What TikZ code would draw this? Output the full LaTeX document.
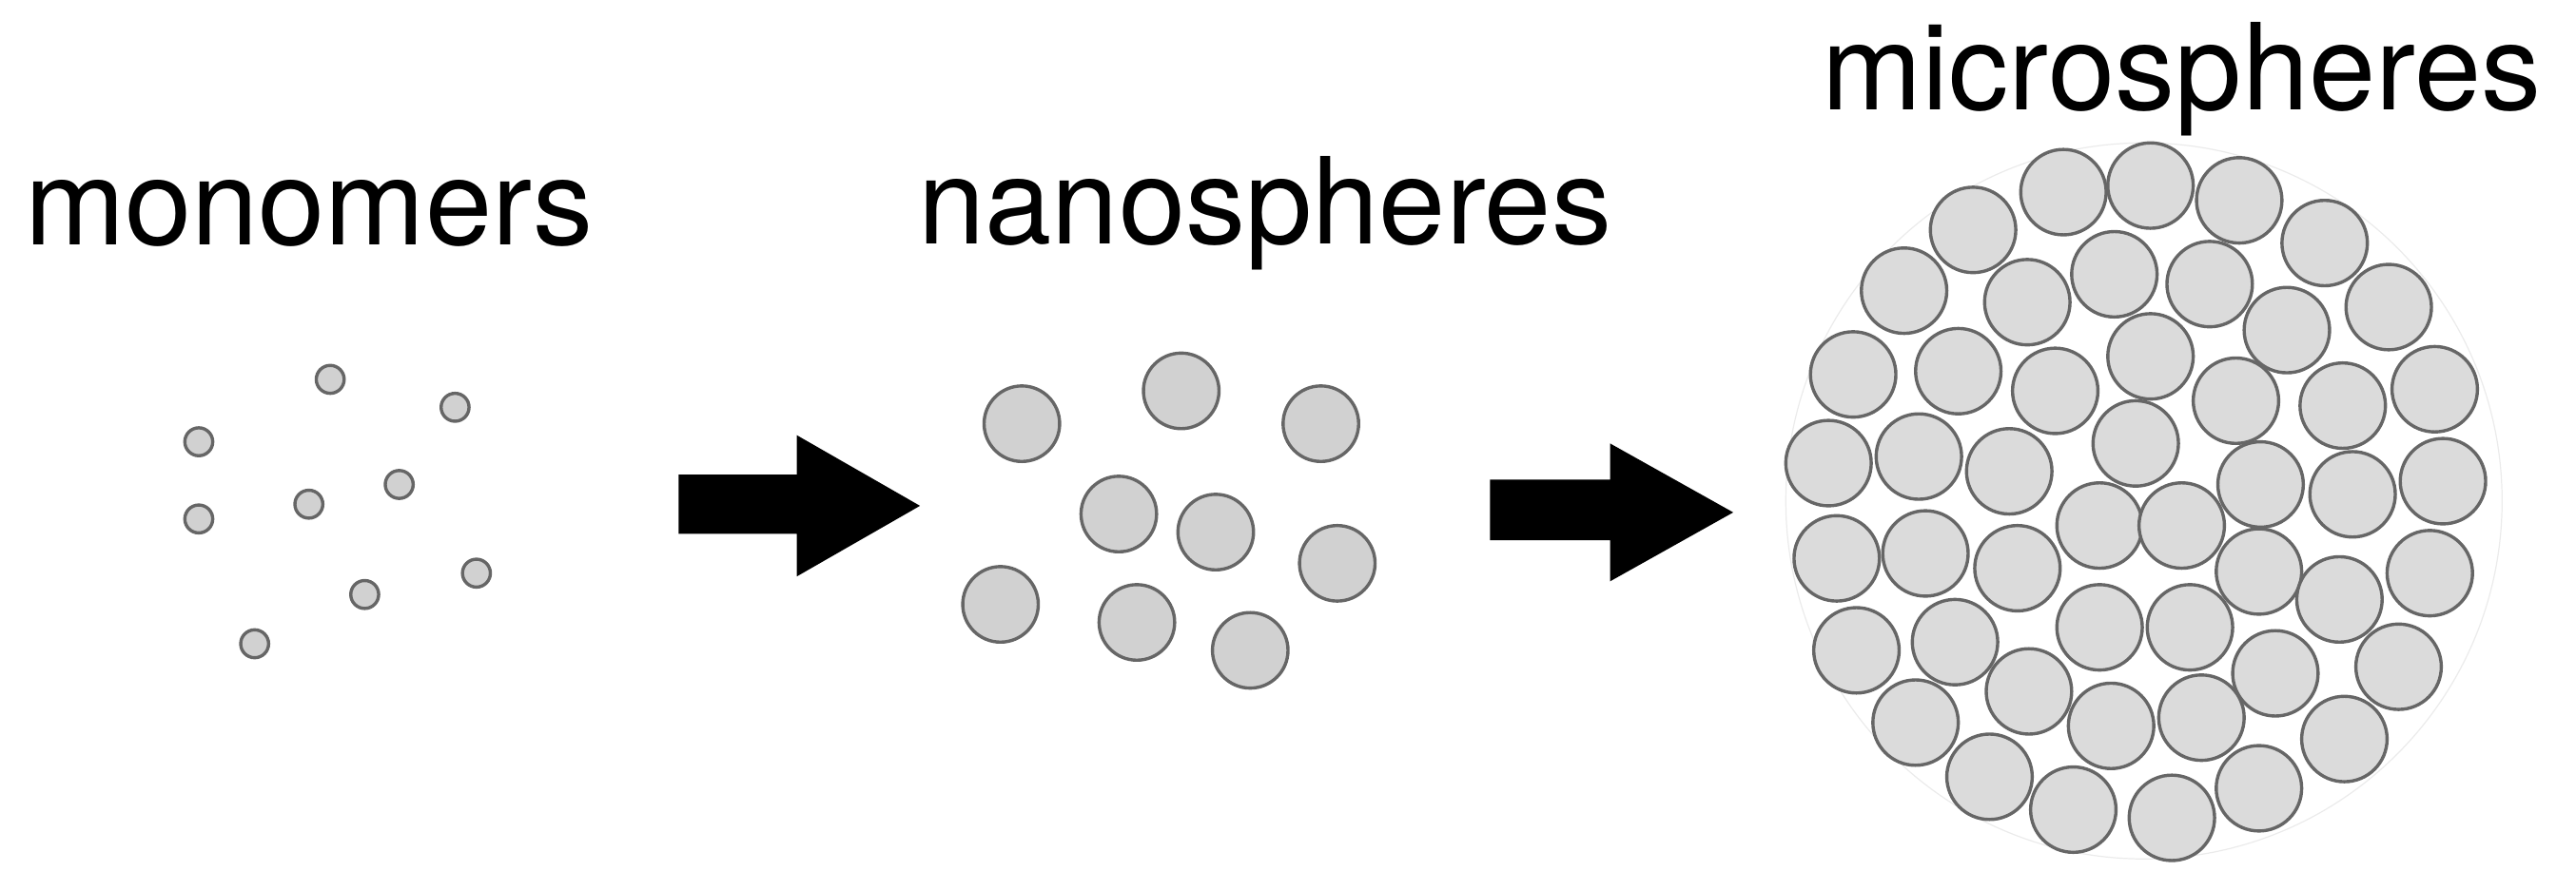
\documentclass[tikz,border=0pt]{standalone}
\usepackage{fontspec}
\setmainfont{TeX Gyre Heros}
\begin{document}
\begin{tikzpicture}[x=0.5mm,y=-0.5mm,
  sph/.style={draw=black!60,fill=black!18,line width=2.8pt},
  lbl/.style={font=\fontsize{104}{104}\selectfont,inner sep=0pt},
  arr/.style={fill=black}]
\useasboundingbox (0,0) rectangle (1568,542);
\node[lbl] (t1) at (188,130) {monomers};
\node[lbl] (t2) at (770,130) {nanospheres};
\node[lbl] (t3) at (1328,48) {microspheres};
\foreach \x/\y [count=\i] in {201/231,277/248,121/269,243/295,188/307,121/316,290/349,222/362,155/392}
  \node[sph,circle,minimum size=8.5mm,inner sep=0pt] (m\i) at (\x,\y) {};
\foreach \x/\y [count=\i] in {622/258,719/238,804/258,681/313,740/324,814/343,609/368,692/379,761/396}
  \node[sph,circle,minimum size=23mm,inner sep=0pt] (n\i) at (\x,\y) {};
\fill[arr] (413,289) -- (485,289) -- (485,265) -- (560,308) -- (485,351) -- (485,325) -- (413,325) -- cycle;
\fill[arr] (907,292) -- (980,292) -- (980,270) -- (1055,312) -- (980,354) -- (980,329) -- (907,329) -- cycle;
\node[circle,draw=black!8,line width=1pt,minimum size=218mm,inner sep=0pt] (big) at (1305,305) {};
\foreach \x/\y [count=\i] in {1256/117,1309/113,1363/122,1201/140,1415/148,1159/177,1234/184,1287/167,1345/173,1454/187,1128/228,1192/226,1251/238,1309/217,1392/201,1482/237,1361/244,1426/247,1113/282,1168/278,1223/287,1300/270,1487/293,1376/295,1432/301,1118/340,1172/337,1228/346,1278/320,1328/320,1479/349,1375/348,1424/365,1130/396,1190/391,1278/382,1333/382,1460/406,1385/410,1166/440,1235/421,1285/442,1340/437,1427/450,1211/473,1262/493,1322/498,1375/480}
  \node[sph,fill=black!14,circle,minimum size=26mm,inner sep=0pt] (s\i) at (\x,\y) {};
\end{tikzpicture}
\end{document}
